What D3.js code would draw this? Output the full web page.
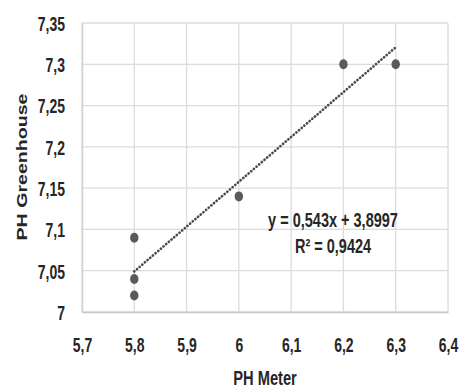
<!DOCTYPE html>
<html>
<head>
<meta charset="utf-8">
<script src="https://cdn.jsdelivr.net/npm/d3@7"></script>
<style>
  body { margin: 0; background: #fff; }
  svg { display: block; }
  text { font-family: "Liberation Sans", Arial, sans-serif; font-weight: bold; fill: #262626; }
</style>
</head>
<body>
<script>
// measured values
const phMeter = [5.8, 5.8, 5.8, 6.0, 6.2, 6.3];
const phGreenhouse = [7.09, 7.04, 7.02, 7.14, 7.3, 7.3];
const xTicks = [5.7, 5.8, 5.9, 6.0, 6.1, 6.2, 6.3, 6.4];
const yTicks = [7, 7.05, 7.1, 7.15, 7.2, 7.25, 7.3, 7.35];
const trendSlope = 0.543;
const trendIntercept = 3.8997;
const trendR2 = 0.9424;

const width = 462, height = 392;
const margin = { top: 23, right: 14, bottom: 80, left: 82 };
const stretch = 1.45; // the source text is tall and narrow

const svg = d3.select("body").append("svg")
  .attr("width", width)
  .attr("height", height);

const x = d3.scaleLinear().domain([5.7, 6.4]).range([margin.left, width - margin.right]);
const y = d3.scaleLinear().domain([7, 7.35]).range([height - margin.bottom, margin.top]);

const comma = v => d3.format("~g")(v).replace(".", ",");

// grid
svg.append("g")
  .selectAll("line")
  .data(yTicks)
  .join("line")
  .attr("x1", x(5.7)).attr("x2", x(6.4))
  .attr("y1", d => y(d)).attr("y2", d => y(d))
  .attr("stroke", "#dcdcdc").attr("stroke-width", 1.3);

svg.append("g")
  .selectAll("line")
  .data(xTicks)
  .join("line")
  .attr("y1", y(7)).attr("y2", y(7.35))
  .attr("x1", d => x(d)).attr("x2", d => x(d))
  .attr("stroke", "#dcdcdc").attr("stroke-width", 1.3);

// axes
const xAxis = svg.append("g")
  .attr("transform", `translate(0,${y(7)})`)
  .call(d3.axisBottom(x).tickValues(xTicks).tickFormat(comma).tickSize(0));
xAxis.select(".domain").attr("stroke", "#c8c8c8").attr("stroke-width", 1.3);
xAxis.selectAll("text")
  .attr("y", null).attr("dy", null)
  .attr("transform", `translate(0,40) scale(1,${stretch})`)
  .style("font-size", "14px");

const yAxis = svg.append("g")
  .attr("transform", `translate(${x(5.7)},0)`)
  .call(d3.axisLeft(y).tickValues(yTicks).tickFormat(comma).tickSize(0));
yAxis.select(".domain").attr("stroke", "#d0d0d0").attr("stroke-width", 1.3);
yAxis.selectAll("text")
  .attr("x", null).attr("dy", null)
  .attr("transform", `translate(-17,7.3) scale(1,${stretch})`)
  .style("font-size", "14px");

// trendline
const xMin = d3.min(phMeter), xMax = d3.max(phMeter);
svg.append("line")
  .attr("x1", x(xMin)).attr("y1", y(trendSlope * xMin + trendIntercept))
  .attr("x2", x(xMax)).attr("y2", y(trendSlope * xMax + trendIntercept))
  .attr("stroke", "#4a4a4a")
  .attr("stroke-width", 2.7)
  .attr("stroke-linecap", "round")
  .attr("stroke-dasharray", "0.1 3.4");

// points
svg.append("g")
  .selectAll("ellipse")
  .data(phMeter.map((d, i) => [d, phGreenhouse[i]]))
  .join("ellipse")
  .attr("cx", d => x(d[0]))
  .attr("cy", d => y(d[1]))
  .attr("rx", 4.2)
  .attr("ry", 5)
  .attr("fill", "#5a5a5a");

// equation
const eq = svg.append("g")
  .attr("text-anchor", "middle")
  .style("font-size", "14.5px");
eq.append("text")
  .attr("transform", `translate(333,227) scale(1,1.35)`)
  .text(`y = ${comma(trendSlope)}x + ${comma(trendIntercept)}`);
eq.append("text")
  .attr("transform", `translate(333,253) scale(1,1.35)`)
  .text(`R² = ${comma(trendR2)}`);

// axis titles
svg.append("text")
  .attr("transform", `translate(${(x(5.7) + x(6.4)) / 2},385) scale(1.05,1.4)`)
  .attr("text-anchor", "middle")
  .style("font-size", "14px")
  .text("PH Meter");

svg.append("text")
  .attr("transform", `translate(27,167) rotate(-90) scale(1.4,1)`)
  .attr("text-anchor", "middle")
  .style("font-size", "14px")
  .text("PH Greenhouse");
</script>
</body>
</html>
